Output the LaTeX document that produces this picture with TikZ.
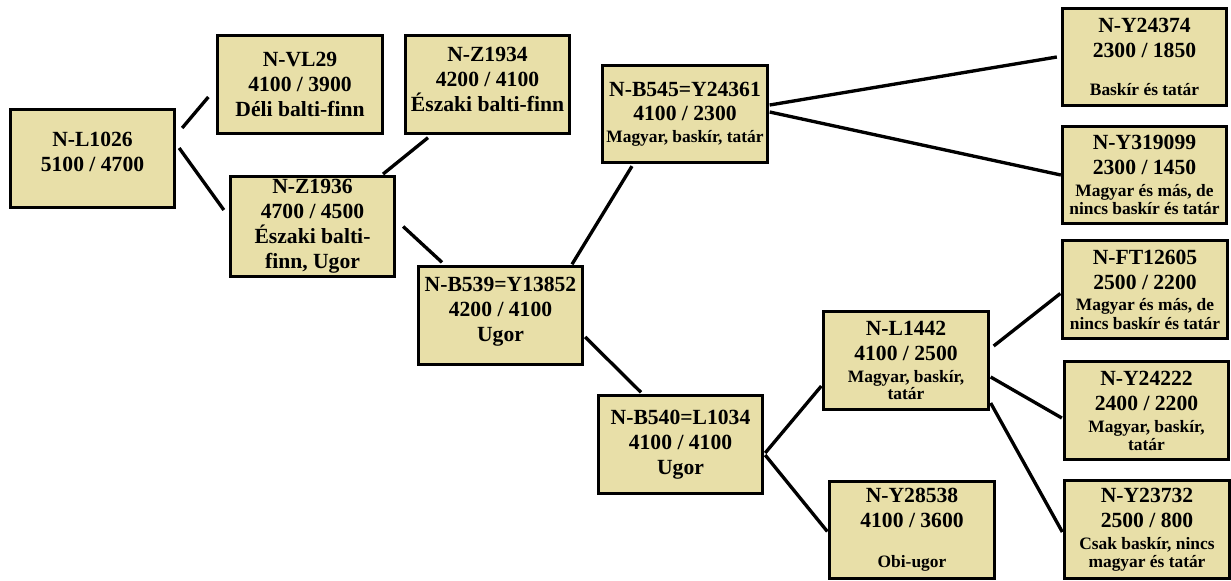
\documentclass[tikz,border=0pt]{standalone}
\usepackage{fontspec}
\setmainfont{Liberation Serif}
\usepackage{xcolor}
\usepackage{tikz}
\usetikzlibrary{positioning, calc}

\definecolor{hapfill}{RGB}{232,223,168}
\newcommand{\sm}[1]{{\fontsize{9.9}{10}\selectfont #1}}

\begin{document}
\begin{tikzpicture}
	[line width=1.5pt,
	hap/.style={rectangle, draw, line width=1.6pt, fill=hapfill, minimum width=3.29cm, minimum height=1.95cm, inner sep=1pt, align=center, font=\fontsize{12.3}{14.2}\selectfont\bfseries},
	link/.style={line width=1.9pt}
	]
	\useasboundingbox (0,0) rectangle (24.62,-11.6);
	
	% Nodes
	\node[hap] (L1026) at (1.85,-3.17) {N-L1026\\5100 / 4700\\[-7pt]};
	\node[hap] (VL29) at (6.00,-1.69) {N-VL29\\4100 / 3900\\Déli balti-finn};
	\node[hap] (Z1934) at (9.75,-1.69) {N-Z1934\\4200 / 4100\\Északi balti-finn\\[-8pt]};
	\node[hap, minimum height=2.0cm] (Z1936) at (6.25,-4.53) {N-Z1936\\4700 / 4500\\Északi balti-\\finn, Ugor};
	\node[hap] (B545) at (13.70,-2.28) {N-B545=Y24361\\4100 / 2300\\[-2pt]\sm{Magyar, baskír, tatár}};
	\node[hap] (B539) at (10.01,-6.31) {N-B539=Y13852\\4200 / 4100\\Ugor\\[-7pt]};
	\node[hap] (B540) at (13.61,-8.89) {N-B540=L1034\\4100 / 4100\\Ugor};
	\node[hap] (L1442) at (18.12,-7.21) {N-L1442\\4100 / 2500\\[-1.7pt]\sm{Magyar, baskír,}\\[-4.4pt]\sm{tatár}};
	\node[hap] (Y28538) at (18.24,-10.60) {N-Y28538\\4100 / 3600\\[8.5pt]\sm{Obi-ugor}};
	\node[hap] (Y24374) at (22.89,-1.14) {N-Y24374\\2300 / 1850\\[7.3pt]\sm{Baskír és tatár}};
	\node[hap] (Y319099) at (22.89,-3.50) {N-Y319099\\2300 / 1450\\[-1.7pt]\sm{Magyar és más, de}\\[-3.8pt]\sm{nincs baskír és tatár}};
	\node[hap] (FT12605) at (22.90,-5.79) {N-FT12605\\2500 / 2200\\[-2pt]\sm{Magyar és más, de}\\[-3.6pt]\sm{nincs baskír és tatár}};
	\node[hap] (Y24222) at (22.93,-8.21) {N-Y24222\\2400 / 2200\\[-1.2pt]\sm{Magyar, baskír,}\\[-4.4pt]\sm{tatár}};
	\node[hap] (Y23732) at (22.94,-10.59) {N-Y23732\\2500 / 800\\[-1.7pt]\sm{Csak baskír, nincs}\\[-3.8pt]\sm{magyar és tatár}};
	
	% Links
	\draw[link] ([xshift=0.12cm, yshift=0.61cm]L1026.east) -- ([xshift=-0.16cm, yshift=-0.25cm]VL29.west);
	\draw[link] ([xshift=0.06cm, yshift=0.21cm]L1026.east) -- ([xshift=-0.10cm, yshift=0.33cm]Z1936.west);
	\draw[link] ([xshift=1.41cm, yshift=0.02cm]Z1936.north) -- ([xshift=-1.19cm, yshift=-0.06cm]Z1934.south);
	\draw[link] ([xshift=0.14cm]Z1936.east) -- ([xshift=-1.17cm, yshift=0.06cm]B539.north);
	\draw[link] ([xshift=1.43cm, yshift=0.02cm]B539.north) -- ([xshift=-1.06cm, yshift=-0.04cm]B545.south);
	\draw[link] ([xshift=0.02cm, yshift=-0.43cm]B539.east) -- ([xshift=-0.79cm, yshift=0.04cm]B540.north);
	\draw[link] ([xshift=0.02cm, yshift=0.18cm]B545.east) -- ([xshift=-0.08cm]Y24374.west);
	\draw[link] ([xshift=0.02cm, yshift=0.04cm]B545.east) -- (Y319099.west);
	\draw[link] ([xshift=0.02cm, yshift=-0.17cm]B540.east) -- ([xshift=-0.02cm, yshift=-0.51cm]L1442.west);
	\draw[link] ([xshift=0.02cm, yshift=-0.21cm]B540.east) -- ([xshift=-0.02cm, yshift=-0.03cm]Y28538.west);
	\draw[link] ([xshift=0.08cm, yshift=0.29cm]L1442.east) -- ([xshift=-0.02cm, yshift=-0.08cm]FT12605.west);
	\draw[link] ([xshift=0.02cm, yshift=-0.33cm]L1442.east) -- ([xshift=-0.02cm, yshift=-0.15cm]Y24222.west);
	\draw[link] ([xshift=0.02cm, yshift=-0.85cm]L1442.east) -- ([xshift=-0.02cm, yshift=-0.05cm]Y23732.west);
\end{tikzpicture}
\end{document}
